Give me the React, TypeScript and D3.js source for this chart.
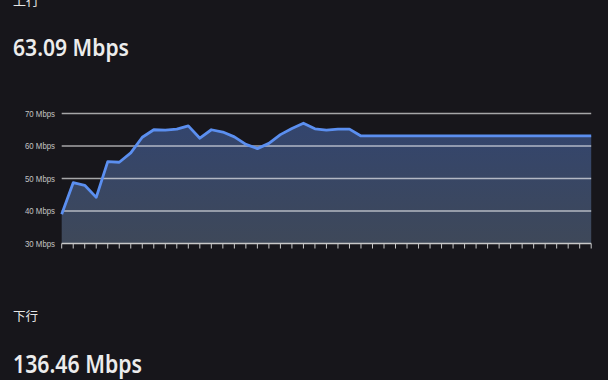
import React from "react";
import * as d3 from "d3";

const upLabel = "上行";
const upValue = "63.09 Mbps";
const downLabel = "下行";
const downValue = "136.46 Mbps";

const yTicks = [30, 40, 50, 60, 70];
const uploadSeries = [
  39.0, 48.7, 47.9, 44.2, 55.2, 55.0, 57.9, 62.7, 65.0, 64.9,
  65.2, 66.2, 62.4, 65.0, 64.3, 62.8, 60.5, 59.2, 60.8, 63.5,
  65.4, 67.0, 65.3, 64.9, 65.2, 65.2, 63.09, 63.09, 63.09, 63.09,
  63.09, 63.09, 63.09, 63.09, 63.09, 63.09, 63.09, 63.09, 63.09, 63.09,
  63.09, 63.09, 63.09, 63.09, 63.09, 63.09, 63.09,
];

const W = 608;
const H = 380;
const X0 = 61.7;
const X1 = 591.2;
const Y30 = 243.5;
const Y70 = 113.5;

export default function App() {
  const idx = uploadSeries.map((_, i) => i);
  const x = d3.scaleLinear().domain([0, uploadSeries.length - 1]).range([X0, X1]);
  const y = d3.scaleLinear().domain([30, 70]).range([Y30, Y70]);

  const area = d3
    .area<number>()
    .x((_, i) => x(i))
    .y0(y(30))
    .y1((d) => y(d))
    .curve(d3.curveLinear);
  const line = d3
    .line<number>()
    .x((_, i) => x(i))
    .y((d) => y(d))
    .curve(d3.curveLinear);

  const sans = "'Noto Sans', 'Noto Sans CJK SC', sans-serif";

  return (
    <svg
      width={W}
      height={H}
      style={{ position: "absolute", left: 0, top: 0, display: "block" }}
    >
      <defs>
        <linearGradient id="fillGrad" x1="0" y1="0" x2="0" y2="1">
          <stop offset="0%" stopColor="#33456e" />
          <stop offset="100%" stopColor="#3e4859" />
        </linearGradient>
      </defs>
      <rect x={0} y={0} width={W} height={H} fill="#17161b" />

      <text x={13} y={5} fill="#e6e6e6" fontSize={13} fontFamily="'Noto Sans CJK SC', sans-serif">
        {upLabel}
      </text>
      <text
        x={13}
        y={56}
        fill="#ececec"
        fontSize={23.5}
        fontWeight={600}
        fontFamily={sans}
        textLength={116}
        lengthAdjust="spacingAndGlyphs"
      >
        {upValue}
      </text>

      <path d={area(uploadSeries) || ""} fill="url(#fillGrad)" />

      {yTicks
        .filter((t) => t !== 30)
        .map((t) => (
          <line
            key={t}
            x1={X0}
            x2={X1}
            y1={y(t)}
            y2={y(t)}
            stroke="rgba(255,255,255,0.62)"
            strokeWidth={1.6}
          />
        ))}

      <path d={line(uploadSeries) || ""} fill="none" stroke="#5b8ff0" strokeWidth={2.8} strokeLinejoin="round" />

      <line x1={X0} x2={X1} y1={y(30)} y2={y(30)} stroke="#c9c9c9" strokeWidth={1.6} />
      {idx.map((i) => (
        <line key={i} x1={x(i)} x2={x(i)} y1={y(30)} y2={y(30) + 5} stroke="#c9c9c9" strokeWidth={1} />
      ))}

      {yTicks.map((t) => (
        <text
          key={t}
          x={55}
          y={y(t)}
          dy="0.35em"
          textAnchor="end"
          fill="#c4c4c4"
          fontSize={9.5}
          textLength={30}
          lengthAdjust="spacingAndGlyphs"
          fontFamily="'Liberation Sans', Arial, sans-serif"
        >
          {`${t} Mbps`}
        </text>
      ))}

      <text x={13} y={321} fill="#e6e6e6" fontSize={12.5} fontFamily="'Noto Sans CJK SC', sans-serif">
        {downLabel}
      </text>
      <text
        x={13}
        y={373}
        fill="#ececec"
        fontSize={24.5}
        fontWeight={600}
        fontFamily={sans}
        textLength={129}
        lengthAdjust="spacingAndGlyphs"
      >
        {downValue}
      </text>
    </svg>
  );
}
